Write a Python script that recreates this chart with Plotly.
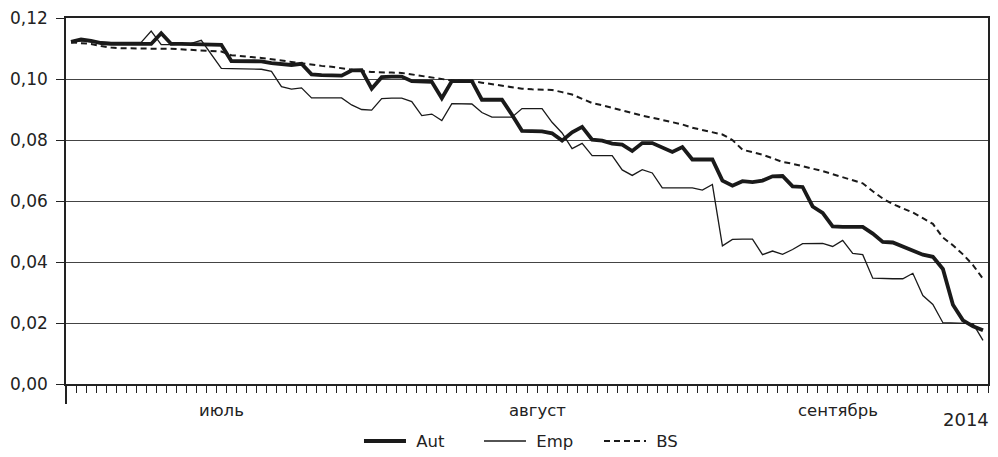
import pandas as pd
import plotly.graph_objects as go

dates = pd.date_range("2014-07-01", "2014-09-30", freq="D")

aut = [0.1122, 0.1130, 0.1125, 0.1118, 0.1115, 0.1115, 0.1115, 0.1115, 0.1115, 0.1150,
       0.1115, 0.1115, 0.1114, 0.1113, 0.1113, 0.1112, 0.1059, 0.1058, 0.1058, 0.1058,
       0.1052, 0.1049, 0.1046, 0.1050, 0.1015, 0.1013, 0.1012, 0.1011, 0.1028, 0.1029,
       0.0968, 0.1006, 0.1008, 0.1008, 0.0993, 0.0991, 0.0991, 0.0937, 0.0993, 0.0993,
       0.0993, 0.0932, 0.0932, 0.0932, 0.0883, 0.0830, 0.0829, 0.0828, 0.0822, 0.0798,
       0.0825, 0.0843, 0.0801, 0.0798, 0.0788, 0.0785, 0.0764, 0.0790, 0.0790, 0.0776,
       0.0761, 0.0777, 0.0736, 0.0736, 0.0736, 0.0667, 0.0650, 0.0665, 0.0662, 0.0667,
       0.0681, 0.0682, 0.0648, 0.0646, 0.0582, 0.0561, 0.0517, 0.0515, 0.0515, 0.0515,
       0.0493, 0.0466, 0.0464, 0.0450, 0.0435, 0.0424, 0.0417, 0.0377, 0.0260, 0.0209,
       0.0189, 0.0176]

emp = [0.1120, 0.1125, 0.1122, 0.1120, 0.1120, 0.1120, 0.1120, 0.1120, 0.1157, 0.1113,
       0.1113, 0.1115, 0.1117, 0.1127, 0.1081, 0.1035, 0.1034, 0.1034, 0.1033, 0.1032,
       0.1025, 0.0975, 0.0967, 0.0971, 0.0938, 0.0938, 0.0938, 0.0938, 0.0915, 0.0900,
       0.0898, 0.0936, 0.0937, 0.0937, 0.0926, 0.0880, 0.0885, 0.0864, 0.0919, 0.0919,
       0.0918, 0.0890, 0.0875, 0.0875, 0.0875, 0.0903, 0.0903, 0.0903, 0.0858, 0.0823,
       0.0772, 0.0789, 0.0749, 0.0749, 0.0749, 0.0702, 0.0684, 0.0703, 0.0692, 0.0643,
       0.0643, 0.0643, 0.0643, 0.0636, 0.0654, 0.0453, 0.0474, 0.0475, 0.0475, 0.0424,
       0.0436, 0.0425, 0.0441, 0.0460, 0.0461, 0.0461, 0.0451, 0.0471, 0.0428, 0.0424,
       0.0347, 0.0345, 0.0345, 0.0345, 0.0363, 0.0290, 0.0261, 0.0201, 0.0200, 0.0200,
       0.0198, 0.0143]

bs = [0.1120, 0.1118, 0.1115, 0.1108, 0.1103, 0.1101, 0.1100, 0.1100, 0.1100, 0.1099,
      0.1099, 0.1097, 0.1095, 0.1093, 0.1092, 0.1090, 0.1078, 0.1074, 0.1072, 0.1069,
      0.1066, 0.1061, 0.1056, 0.1051, 0.1046, 0.1043, 0.1040, 0.1035, 0.1030, 0.1026,
      0.1023, 0.1021, 0.1021, 0.1020, 0.1015, 0.1010, 0.1005, 0.0998, 0.0995, 0.0994,
      0.0993, 0.0988, 0.0983, 0.0978, 0.0972, 0.0968, 0.0966, 0.0965, 0.0964, 0.0957,
      0.0949, 0.0935, 0.0921, 0.0914, 0.0905, 0.0898, 0.0889, 0.0880, 0.0873, 0.0866,
      0.0858, 0.0851, 0.0840, 0.0832, 0.0825, 0.0818, 0.0800, 0.0768, 0.0760, 0.0752,
      0.0740, 0.0728, 0.0722, 0.0714, 0.0707, 0.0698, 0.0688, 0.0678, 0.0668, 0.0658,
      0.0632, 0.0608, 0.0590, 0.0576, 0.0562, 0.0544, 0.0525, 0.0480, 0.0455, 0.0425,
      0.0390, 0.0345]

series_names = ["Aut", "Emp", "BS"]
month_labels = ["июль", "август", "сентябрь"]
month_centers = ["2014-07-16", "2014-08-16 12:00", "2014-09-15 12:00"]
year_label = "2014"

FONT = "DejaVu Sans"
half = pd.Timedelta(hours=12)
x_start = dates[0] - half
x_end = dates[-1] + half
major = [x_start, pd.Timestamp("2014-07-31 12:00"), pd.Timestamp("2014-08-31 12:00"), x_end]
minor = [d + half for d in dates]

styles = [dict(color="#1a1a1a", width=3.8),
          dict(color="#1a1a1a", width=1.3),
          dict(color="#1a1a1a", width=2, dash="6px,4px")]

fig = go.Figure()
for name, vals, st in zip(series_names, [aut, emp, bs], styles):
    fig.add_trace(go.Scatter(x=dates, y=vals, name="\u00a0" + name, mode="lines", line=st))

annotations = [dict(x=c, y=-0.073, xref="x", yref="paper", text=t, showarrow=False,
                    xanchor="center", yanchor="middle",
                    font=dict(family=FONT, size=16.5, color="#222"))
               for c, t in zip(month_centers, month_labels)]
annotations.append(dict(x=x_end, y=-0.098, xref="x", yref="paper", text=year_label,
                        showarrow=False, xanchor="right", yanchor="middle", xshift=3,
                        font=dict(family=FONT, size=18, color="#222")))

fig.update_layout(
    width=990, height=449,
    margin=dict(l=58, r=10, t=10, b=73),
    paper_bgcolor="white", plot_bgcolor="white",
    separators=", ",
    font=dict(family=FONT, size=16, color="#222"),
    showlegend=True,
    legend=dict(orientation="h", x=0.513, xanchor="center", yref="container",
                y=0.035, yanchor="middle", entrywidth=63, entrywidthmode="pixels",
                itemwidth=42,
                font=dict(family=FONT, size=16.5, color="#222"),
                bgcolor="rgba(0,0,0,0)"),
    annotations=annotations,
    xaxis=dict(type="date", range=[x_start, x_end], showgrid=False, zeroline=False,
               automargin=False,
               showline=True, linecolor="#222", linewidth=1.6, mirror=True,
               tickmode="array", tickvals=major, ticktext=["", "", "", ""],
               ticks="outside", ticklen=18, tickwidth=1.5, tickcolor="#222",
               showticklabels=False,
               minor=dict(tickmode="array", tickvals=minor, ticks="outside",
                          ticklen=7, tickwidth=1.2, tickcolor="#222", showgrid=False)),
    yaxis=dict(range=[0, 0.12], tickvals=[0, 0.02, 0.04, 0.06, 0.08, 0.10, 0.12],
               tickformat=".2f", showgrid=True, gridcolor="#444", gridwidth=1.2,
               automargin=False, ticklabeloverflow="allow", ticklabelstandoff=5,
               zeroline=False, showline=True, linecolor="#222", linewidth=1.6,
               mirror=True, ticks="outside", ticklen=8, tickwidth=1.2,
               tickcolor="#222", tickfont=dict(family=FONT, size=17, color="#222")),
)

fig.write_html("out.html")
